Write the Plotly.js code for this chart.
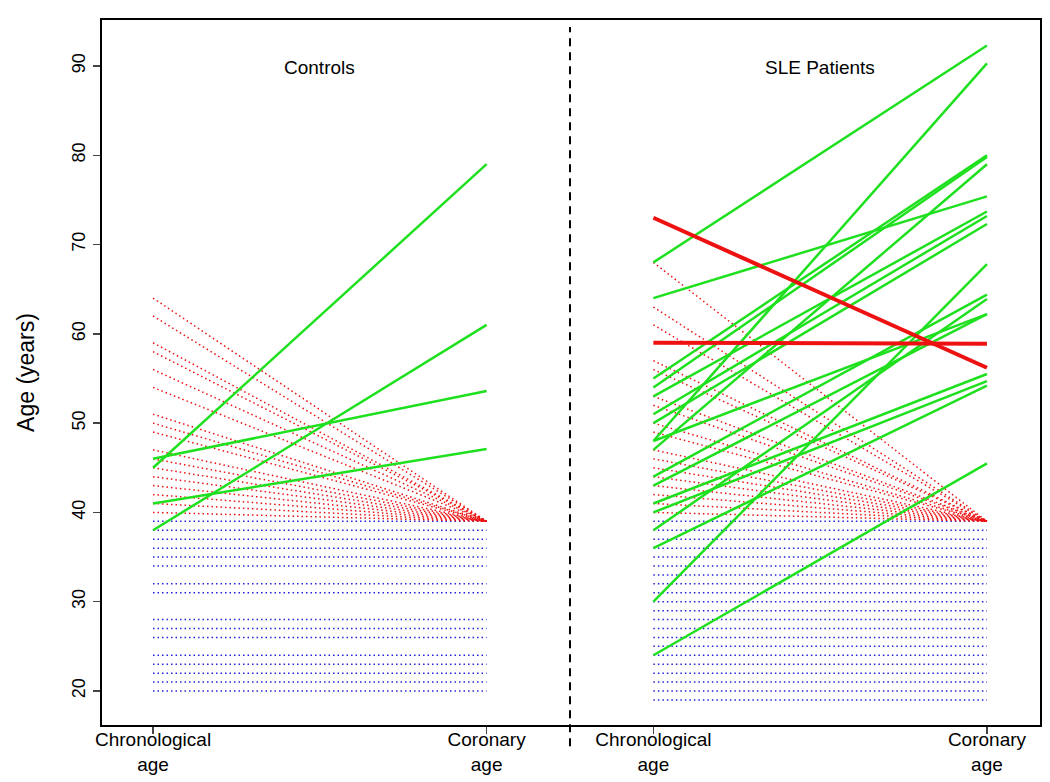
<!DOCTYPE html>
<html>
<head>
<meta charset="utf-8">
<script src="https://cdn.plot.ly/plotly-3.0.1.min.js"></script>
<style>
    html, body { margin: 0; padding: 0; background: #fff; }
    #chart { width: 1050px; height: 782px; }
</style>
</head>
<body>
<div id="chart"></div>
<script>
// x positions of the four age columns
const X_POS = [1, 2, 2.5, 3.5];
const X_LABELS = ['Chronological<br>age', 'Coronary<br>age', 'Chronological<br>age', 'Coronary<br>age'];
const PANEL_TITLES = ['Controls', 'SLE Patients'];
const DIVIDER_X = 2.25;

// coronary age given to subjects with zero calcium
const ZERO_CAC_AGE = 39;

// controls
const ctrlBlueAge = [39, 38, 37, 36, 35, 34, 32, 31, 28, 27, 26, 24, 23, 22, 21, 20];
const ctrlRedChrono = [64, 62, 59, 58, 56, 54, 51, 50, 49, 47, 46, 45, 44, 43, 42, 41, 40];
const ctrlGreenChrono = [45, 46, 41, 38];
const ctrlGreenCoronary = [79, 53.6, 47.1, 61];

// SLE patients
const sleBlueAge = [39, 38, 37, 36, 35, 34, 33, 32, 31, 30, 29, 28, 27, 26, 25, 24, 23, 22, 21, 20, 19];
const sleRedChrono = [68, 63, 61, 57, 56, 53, 52, 50, 49, 47, 46, 45, 44, 43, 42, 41, 40];
const sleGreenChrono = [68, 64, 48, 55, 54, 53, 51, 50, 48, 47, 44, 43, 41, 40, 38, 36, 30, 24];
const sleGreenCoronary = [92.3, 75.4, 90.3, 80.0, 79.8, 73.7, 73.2, 72.3, 62.2, 79.0, 64.4, 62.2, 55.5, 54.7, 63.9, 54.2, 67.8, 45.5];
const sleThickChrono = [73, 59];
const sleThickCoronary = [56.2, 58.9];

function segments(x0, x1, starts, ends) {
    const x = [];
    const y = [];
    starts.forEach((s, i) => {
        x.push(x0, x1, null);
        y.push(s, ends[i], null);
    });
    return { x, y };
}

function lineTrace(seg, color, width, dash) {
    return {
        x: seg.x,
        y: seg.y,
        mode: 'lines',
        type: 'scatter',
        line: { color, width, dash },
        hoverinfo: 'skip',
        showlegend: false,
    };
}

const DOT = '1.5px,3px';
const GREEN = '#1fe01f';
const RED = '#ee1111';
const BLUE = '#2222dd';

const traces = [
    lineTrace(segments(X_POS[0], X_POS[1], ctrlBlueAge, ctrlBlueAge), BLUE, 1.5, DOT),
    lineTrace(segments(X_POS[0], X_POS[1], ctrlRedChrono, ctrlRedChrono.map(() => ZERO_CAC_AGE)), RED, 1.5, DOT),
    lineTrace(segments(X_POS[0], X_POS[1], ctrlGreenChrono, ctrlGreenCoronary), GREEN, 2.5, 'solid'),
    lineTrace(segments(X_POS[2], X_POS[3], sleBlueAge, sleBlueAge), BLUE, 1.5, DOT),
    lineTrace(segments(X_POS[2], X_POS[3], sleRedChrono, sleRedChrono.map(() => ZERO_CAC_AGE)), RED, 1.5, DOT),
    lineTrace(segments(X_POS[2], X_POS[3], sleGreenChrono, sleGreenCoronary), GREEN, 2.5, 'solid'),
    lineTrace(segments(X_POS[2], X_POS[3], sleThickChrono, sleThickCoronary), RED, 4, 'solid'),
];

const layout = {
    width: 1050,
    height: 782,
    margin: { l: 102, r: 10, t: 20, b: 57 },
    paper_bgcolor: '#fff',
    plot_bgcolor: '#fff',
    font: { family: 'Liberation Sans, Arial, sans-serif', color: '#000' },
    xaxis: {
        range: [0.847, 3.659],
        tickvals: X_POS,
        ticktext: X_LABELS,
        ticks: 'outside',
        ticklen: 7,
        tickwidth: 1.5,
        ticklabelstandoff: -11,
        tickfont: { size: 19 },
        showgrid: false,
        zeroline: false,
        showline: true,
        mirror: true,
        linecolor: '#000',
        linewidth: 2,
    },
    yaxis: {
        range: [16.19, 95.15],
        tickvals: [20, 30, 40, 50, 60, 70, 80, 90],
        ticks: 'outside',
        ticklen: 7,
        tickwidth: 1.5,
        tickangle: -90,
        ticklabelstandoff: 1,
        tickfont: { size: 18 },
        showgrid: false,
        zeroline: false,
        showline: true,
        mirror: true,
        linecolor: '#000',
        linewidth: 2,
        title: { text: 'Age (years)', font: { size: 23 }, standoff: 28 },
    },
    shapes: [{
        type: 'line',
        xref: 'x',
        yref: 'paper',
        x0: DIVIDER_X,
        x1: DIVIDER_X,
        y0: -0.03,
        y1: 0.99,
        line: { color: '#000', width: 2, dash: '8px,6px' },
    }],
    annotations: PANEL_TITLES.map((text, i) => ({
        text,
        x: (X_POS[i * 2] + X_POS[i * 2 + 1]) / 2,
        y: 89.8,
        xref: 'x',
        yref: 'y',
        showarrow: false,
        font: { size: 19 },
    })),
};

Plotly.newPlot('chart', traces, layout, { displayModeBar: false, staticPlot: true });
</script>
</body>
</html>
